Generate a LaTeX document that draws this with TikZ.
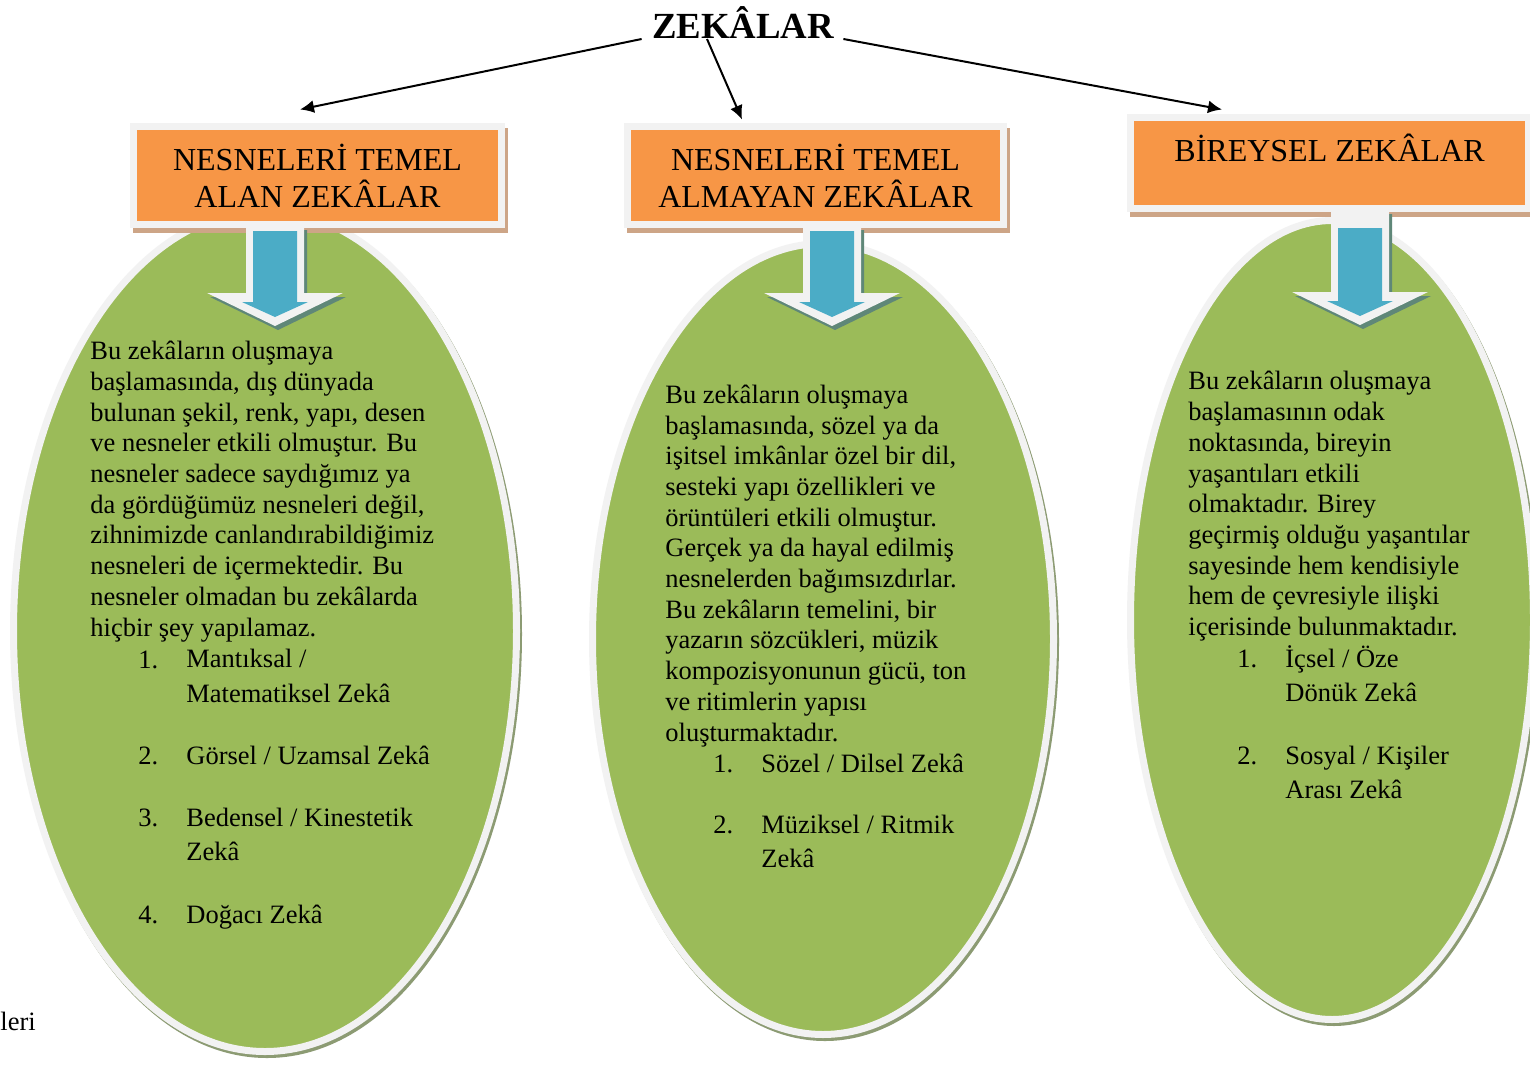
\documentclass[tikz,border=0pt]{standalone}
\usepackage{fontspec}
\setmainfont{Liberation Serif}
\usetikzlibrary{arrows.meta,calc}
\definecolor{eggreen}{HTML}{9BBB59}
\definecolor{egorange}{HTML}{F79646}
\definecolor{egblue}{HTML}{4BACC6}
\definecolor{egrim}{HTML}{F2F2F2}
\definecolor{egboxsh}{RGB}{205,165,135}
\definecolor{egarrsh}{RGB}{95,135,120}
\definecolor{egellsh}{RGB}{140,155,115}
\tikzset{
  hbox/.style={draw=egrim, line width=3.5pt, fill=egorange, inner sep=0pt,
    align=center, font=\fontsize{16}{18.5}\selectfont},
  bodytext/.style={anchor=base west, inner sep=0pt, align=left,
    font=\fontsize{13.25}{15.35}\selectfont},
  itemtext/.style={anchor=base west, inner sep=0pt, align=left,
    font=\fontsize{13.25}{17.25}\selectfont},
  ellrim/.style={draw=egrim, line width=3.5pt, fill=eggreen},
  ellshadow/.style={fill=egellsh},
  conn/.style={line width=1pt, -{Latex[length=7pt,width=6.5pt]}},
  pics/downarrow/.style 2 args={code={
    \fill[egarrsh] (-26,-#1+6) -- (32,-#1+6) -- (32,4) -- (71,4) -- (3,37) -- (-65,4) -- (-26,4) -- cycle;
    \fill[egrim] (-29,-#1) -- (29,-#1) -- (29,0) -- (68,0) -- (0,33) -- (-68,0) -- (-29,0) -- cycle;
    \fill[egblue] (-22,-#2) -- (22,-#2) -- (22,9) -- (33,9) -- (0,24) -- (-33,9) -- (-22,9) -- cycle;
  }}
}
\begin{document}
\begin{tikzpicture}[x=0.5pt, y=-0.5pt]
\clip (0,0) rectangle (1530,1065);
\fill[white] (0,0) rectangle (1530,1065);

% ellipses
\fill[ellshadow] (267,634) ellipse [x radius=255, y radius=424];
\draw[ellrim] (265,631) ellipse [x radius=251.5, y radius=420.5];
\fill[ellshadow] (825,642) ellipse [x radius=234, y radius=399];
\draw[ellrim] (823,639) ellipse [x radius=230.5, y radius=395.5];
\fill[ellshadow] (1334,623) ellipse [x radius=205, y radius=403];
\draw[ellrim] (1332,620) ellipse [x radius=201.5, y radius=399.5];

% box shadows
\fill[egboxsh] (133,128) rectangle (508,233);
\fill[egboxsh] (627,128) rectangle (1010,233);
\fill[egboxsh] (1130,119) rectangle (1535,217);

% heading boxes
\node[hbox, minimum width=184pt, minimum height=49pt] (b1) at (317.5,175.5)
  {NESNELERİ TEMEL\\ALAN ZEKÂLAR};
\node[hbox, minimum width=188pt, minimum height=49pt] (b2) at (815.5,175.5)
  {NESNELERİ TEMEL\\ALMAYAN ZEKÂLAR};
\node[hbox, minimum width=199pt, minimum height=45.5pt, text height=12pt, text depth=13pt] (b3) at (1329.5,163)
  {BİREYSEL ZEKÂLAR};

% blue arrows
\pic at (275,293) {downarrow={69}{62}};
\pic at (832,293) {downarrow={69}{62}};
\pic at (1360,292) {downarrow={84}{64}};

% title
\node[inner sep=0pt, anchor=base, font=\fontsize{18.4}{22}\selectfont\bfseries] (title) at (743,39) {ZEKÂLAR};

% connectors
\draw[conn] ([xshift=-5pt]title.base west) -- ([xshift=-8.75pt,yshift=6.75pt]b1.north);
\draw[conn] ([xshift=-18pt]title.base) -- ([xshift=-36.75pt,yshift=1.75pt]b2.north);
\draw[conn] ([xshift=4.5pt]title.base east) -- ([xshift=-53.75pt,yshift=2.25pt]b3.north);

% ellipse 1 text (anchor = baseline of last line)
\node[bodytext] (t1) at (90,636) {Bu zekâların oluşmaya\\
başlamasında, dış dünyada\\
bulunan şekil, renk, yapı, desen\\
ve nesneler etkili olmuştur. Bu\\
nesneler sadece saydığımız ya\\
da gördüğümüz nesneleri değil,\\
zihnimizde canlandırabildiğimiz\\
nesneleri de içermektedir. Bu\\
nesneler olmadan bu zekâlarda\\
hiçbir şey yapılamaz.};
\node[bodytext] (n11) at (138,668) {1.};
\node[itemtext] (i11) at (186,702) {Mantıksal /\\Matematiksel Zekâ};
\node[bodytext] (n12) at (138,764) {2.};
\node[itemtext] (i12) at (186,764) {Görsel / Uzamsal Zekâ};
\node[bodytext] (n13) at (138,826) {3.};
\node[itemtext] (i13) at (186,860.5) {Bedensel / Kinestetik\\Zekâ};
\node[bodytext] (n14) at (138,923) {4.};
\node[itemtext] (i14) at (186,923) {Doğacı Zekâ};

% ellipse 2 text
\node[bodytext] (t2) at (665,741) {Bu zekâların oluşmaya\\
başlamasında, sözel ya da\\
işitsel imkânlar özel bir dil,\\
sesteki yapı özellikleri ve\\
örüntüleri etkili olmuştur.\\
Gerçek ya da hayal edilmiş\\
nesnelerden bağımsızdırlar.\\
Bu zekâların temelini, bir\\
yazarın sözcükleri, müzik\\
kompozisyonunun gücü, ton\\
ve ritimlerin yapısı\\
oluşturmaktadır.};
\node[bodytext] (n21) at (713,772) {1.};
\node[itemtext] (i21) at (761,772) {Sözel / Dilsel Zekâ};
\node[bodytext] (n22) at (713,833) {2.};
\node[itemtext] (i22) at (761,867.5) {Müziksel / Ritmik\\Zekâ};

% ellipse 3 text
\node[bodytext] (t3) at (1188,635.5) {Bu zekâların oluşmaya\\
başlamasının odak\\
noktasında, bireyin\\
yaşantıları etkili\\
olmaktadır. Birey\\
geçirmiş olduğu yaşantılar\\
sayesinde hem kendisiyle\\
hem de çevresiyle ilişki\\
içerisinde bulunmaktadır.};
\node[bodytext] (n31) at (1237,667) {1.};
\node[itemtext] (i31) at (1285,701.5) {İçsel / Öze\\Dönük Zekâ};
\node[bodytext] (n32) at (1237,764) {2.};
\node[itemtext] (i32) at (1285,798.5) {Sosyal / Kişiler\\Arası Zekâ};

% stray text
\node[bodytext] (leri) at (0,1030) {leri};
\end{tikzpicture}
\end{document}
